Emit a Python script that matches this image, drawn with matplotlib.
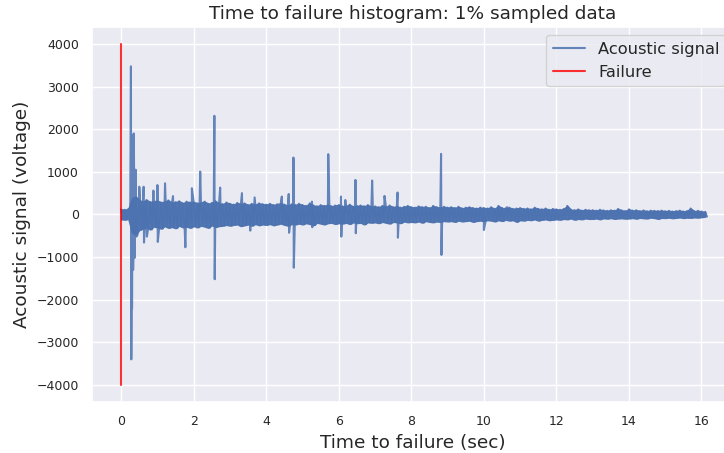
import numpy as np
import matplotlib.pyplot as plt
import seaborn as sns

sns.set()
sns.set_style("darkgrid")

# background band of the signal, sampled every 0.1 s (upper / lower swing)
band_time = [round(0.1 * i, 1) for i in range(162)]
band_upper = [
    120, 110, 130, 380, 420, 330, 300, 340, 290, 310,
    320, 280, 300, 330, 270, 290, 310, 260, 300, 280,
    290, 260, 280, 300, 250, 270, 310, 260, 240, 280,
    250, 230, 270, 240, 260, 220, 250, 230, 260, 240,
    230, 250, 220, 240, 260, 230, 210, 240, 220, 250,
    220, 200, 260, 210, 190, 220, 200, 230, 190, 210,
    220, 190, 200, 230, 180, 200, 210, 190, 220, 180,
    190, 170, 200, 180, 210, 170, 190, 160, 180, 200,
    170, 160, 190, 170, 180, 150, 200, 170, 160, 180,
    160, 170, 150, 180, 140, 160, 170, 150, 140, 160,
    150, 140, 170, 130, 200, 150, 140, 160, 130, 140,
    150, 130, 140, 120, 160, 130, 120, 140, 110, 130,
    120, 110, 130, 200, 110, 100, 120, 90, 110, 100,
    100, 90, 110, 95, 85, 100, 90, 130, 95, 80,
    120, 90, 100, 80, 95, 75, 90, 85, 80, 90,
    75, 85, 70, 80, 90, 70, 80, 140, 75, 85,
    70, 60,
]
band_lower = [
    -110, -120, -100, -420, -480, -360, -330, -300, -350, -280,
    -300, -330, -270, -310, -290, -320, -260, -300, -280, -310,
    -270, -300, -260, -280, -310, -250, -290, -270, -260, -240,
    -260, -240, -230, -270, -250, -230, -260, -220, -250, -230,
    -240, -220, -250, -230, -210, -240, -260, -220, -230, -210,
    -230, -200, -220, -250, -190, -210, -230, -200, -190, -220,
    -200, -210, -190, -220, -180, -200, -190, -230, -180, -190,
    -180, -200, -170, -190, -210, -170, -180, -200, -160, -180,
    -170, -180, -160, -190, -150, -170, -180, -160, -170, -150,
    -160, -150, -170, -140, -160, -150, -140, -170, -150, -140,
    -150, -130, -140, -160, -130, -150, -120, -140, -130, -170,
    -130, -140, -120, -130, -110, -140, -120, -110, -130, -120,
    -110, -120, -100, -110, -90, -120, -100, -110, -90, -100,
    -100, -90, -110, -85, -95, -80, -100, -90, -85, -95,
    -90, -80, -95, -75, -85, -90, -70, -80, -100, -75,
    -80, -70, -85, -75, -65, -80, -70, -75, -65, -70,
    -60, -50,
]

# isolated spikes
spike_time = [0.27, 0.28, 0.30, 0.31, 0.33, 0.35, 0.37, 0.40, 0.42,
              0.50, 0.62, 0.63, 0.71, 0.89, 1.00, 1.01, 1.21, 1.43, 1.77,
              1.95, 2.18, 2.57, 2.58, 2.73, 3.33, 3.56, 3.68, 4.43, 4.62,
              4.63, 4.75, 4.76, 5.26, 5.27, 5.71, 6.06, 6.07, 6.18, 6.46,
              6.47, 6.92, 7.26, 7.62, 7.63, 8.82, 8.83, 10.0, 10.64]
spike_value = [3475, -3400, -2200, 1870, -1300, 1900, -1020, 1050, -520,
               650, 650, -660, -520, 560, 690, -645, 730, 430, -770,
               615, 1005, 2315, -1520, 630, 500, -380, 400, 420, 480,
               -430, 1335, -1250, 300, -300, 1415, 420, -520, 340, 810,
               -440, 795, 435, 515, -545, 1420, -950, -365, 170]

failure_time = [0, 0]
failure_value = [-4000, 4000]

# merge band swings and spikes into one signal trace
pts = []
for t, hi, lo in zip(band_time, band_upper, band_lower):
    pts.append((t, hi))
    pts.append((t + 0.05, lo))
pts += list(zip(spike_time, spike_value))
pts.sort(key=lambda p: p[0])
sig_t = [p[0] for p in pts]
sig_v = [p[1] for p in pts]

blue = "#4C72B0"
fig = plt.figure(figsize=(7.24, 4.53), dpi=100)
ax = fig.add_axes([0.127, 0.1126, 0.887, 0.828])
ax.fill_between(band_time, band_lower, band_upper, color=blue, lw=1.2, alpha=0.95)
ax.plot(sig_t, sig_v, color=blue, alpha=0.85, lw=1.5, label="Acoustic signal")
ax.plot(failure_time, failure_value, color="red", alpha=0.8, lw=1.5, label="Failure")
ax.set_xlim(-0.805, 16.9)
ax.set_ylim(-4400, 4400)
ax.set_title("Time to failure histogram: 1% sampled data", fontsize=13.3)
ax.set_xlabel("Time to failure (sec)", fontsize=13.3)
ax.set_ylabel("Acoustic signal (voltage)", fontsize=13.3)
ax.tick_params(labelsize=9)
ax.legend(loc="upper right", fontsize=11.7)
fig.savefig("out.png", dpi=100)
